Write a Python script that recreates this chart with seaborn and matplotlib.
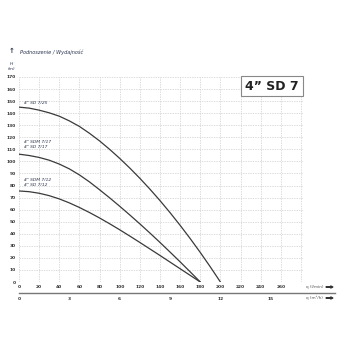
import matplotlib
matplotlib.use("Agg")
import matplotlib.pyplot as plt
import seaborn as sns
import pandas as pd

# Data (flow in l/min, head in m)
q_25 = [0, 10, 20, 30, 40, 50, 60, 70, 80, 90, 100, 110, 120, 130, 140, 150, 160, 170, 180, 190, 200]
h_25 = [145, 144.2, 142.5, 140.3, 137.5, 133.6, 129, 123.3, 117, 110, 102.5, 94.5, 86, 77, 67.5, 57.5, 47, 36, 24.5, 12.5, 0]
q_17 = [0, 10, 20, 30, 40, 50, 60, 70, 80, 90, 100, 110, 120, 130, 140, 150, 160, 170, 180]
h_17 = [106, 104.9, 103.3, 101, 97.8, 93.8, 88.8, 83, 76.5, 69.8, 62.8, 55.6, 48.2, 40.6, 32.8, 24.8, 16.7, 8.4, 0]
q_12 = [0, 10, 20, 30, 40, 50, 60, 70, 80, 90, 100, 110, 120, 130, 140, 150, 160, 170, 180]
h_12 = [75.5, 74.9, 73.6, 71.6, 68.9, 65.6, 61.8, 57.6, 53.1, 48.3, 43.3, 38.1, 32.8, 27.4, 22, 16.5, 11, 5.5, 0]
series_names = ["4\" SD 7/25", "4\" SD 7/17", "4\" SD 7/12"]
x_ticks = list(range(0, 261, 20))
y_ticks = list(range(0, 171, 10))
m3h_ticks = [0, 3, 6, 9, 12, 15]
title_box = "4\u201d SD 7"

sns.set_theme(style="white")
plt.rcParams['font.family'] = ['DejaVu Sans']

df = pd.concat([
    pd.DataFrame({"q": q_25, "H": h_25, "pump": series_names[0]}),
    pd.DataFrame({"q": q_17, "H": h_17, "pump": series_names[1]}),
    pd.DataFrame({"q": q_12, "H": h_12, "pump": series_names[2]}),
])

fig = plt.figure(figsize=(3.5, 3.5), dpi=100)
W = H = 350.0
x0, x1 = 19, 303
y0, y1 = 282, 77
ax = fig.add_axes([x0 / W, (H - y0) / H, (x1 - x0) / W, (y0 - y1) / H])

sns.lineplot(data=df, x="q", y="H", units="pump", ax=ax, color="#3a3a3a",
             linewidth=0.9, estimator=None, sort=False, legend=False)

ax.set_xlim(0, 282)
ax.set_ylim(0, 170)
ax.set_xticks(x_ticks + [280])
ax.set_xticklabels([str(v) for v in x_ticks] + [""])
ax.set_yticks(y_ticks)
ax.set_yticklabels([str(v) for v in y_ticks])
ax.tick_params(axis="both", length=0, labelsize=3.2, colors="#333333", pad=2)
for lab in ax.get_xticklabels() + ax.get_yticklabels():
    lab.set_fontweight("bold")
ax.grid(True, color="#cfcfcf", linestyle=(0, (2, 1.5)), linewidth=0.5)
for s in ax.spines.values():
    s.set_visible(False)
ax.set_xlabel("")
ax.set_ylabel("")

# curve labels
lab_kw = dict(fontsize=3.2, style="italic", color="#2c3550")
ax.text(5, 148, "4\" SD 7/25", **lab_kw)
ax.text(5, 115, "4\" SDM 7/17", **lab_kw)
ax.text(5, 111, "4\" SD 7/17", **lab_kw)
ax.text(5, 84, "4\" SDM 7/12", **lab_kw)
ax.text(5, 80, "4\" SD 7/12", **lab_kw)

# title box
fig.text(272 / W, 1 - 86 / H, title_box, ha="center", va="center", fontsize=9,
         fontweight="bold", color="#222222",
         bbox=dict(boxstyle="square,pad=0.3", fc="white", ec="#888888", lw=0.8))

# top labels
fig.text(20 / W, 1 - 52 / H, "Podnoszenie / Wydajno\u015b\u0107", fontsize=3.6,
         style="italic", color="#2c3550", va="center")
fig.text(12 / W, 1 - 51 / H, "\u2191", fontsize=5, color="#2c3550", va="center", ha="center",
         fontweight="bold")
fig.text(12 / W, 1 - 64 / H, "H", fontsize=3.2, style="italic", color="#2c3550",
         va="center", ha="center")
fig.text(12 / W, 1 - 69 / H, "(m)", fontsize=3.2, style="italic", color="#2c3550",
         va="center", ha="center")

# secondary m3/h axis
ax2 = fig.add_axes([x0 / W, (H - 293) / H, (335 - x0) / W, 0.001])
ax2.set_xlim(0, (335 - x0) / ((x1 - x0) / 282.0) * 0.06)
ax2.set_ylim(0, 1)
ax2.set_xticks(m3h_ticks)
ax2.set_xticklabels([str(v) for v in m3h_ticks])
ax2.set_yticks([])
ax2.set_facecolor("none")
for k, s in ax2.spines.items():
    s.set_visible(k == "bottom")
ax2.spines["bottom"].set_color("#777777")
ax2.spines["bottom"].set_linewidth(1.0)
ax2.tick_params(axis="x", length=2, width=0.5, color="#777777", labelsize=3.2,
                colors="#333333", pad=1)
for lab in ax2.get_xticklabels():
    lab.set_fontweight("bold")

# axis unit labels with arrows
fig.text(306 / W, 1 - 287 / H, "q (l/min)", fontsize=3, color="#555555", va="center")
fig.text(306 / W, 1 - 298 / H, "q (m\u00b3/h)", fontsize=3, color="#555555", va="center")
for yy in (287, 298):
    fig.patches.append(matplotlib.patches.FancyArrow(
        326 / W, 1 - yy / H, 7 / W, 0, width=0.0008, head_width=0.006,
        head_length=0.007, length_includes_head=True, color="#333333",
        transform=fig.transFigure, figure=fig))

fig.savefig("out.png", dpi=100)
